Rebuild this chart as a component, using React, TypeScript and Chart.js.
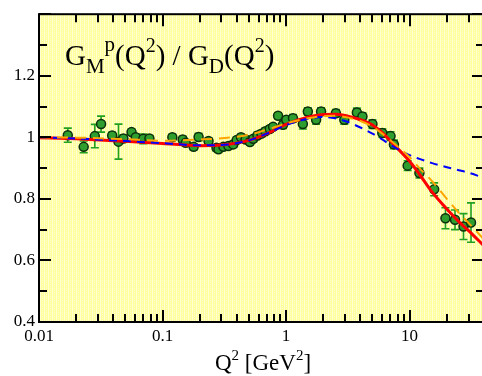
import React, { useEffect, useRef } from "react";
import { Chart, registerables } from "chart.js";
Chart.register(...registerables);

const FONT = "'Liberation Serif', 'Times New Roman', Times, serif";

// Measured points: Q^2 [GeV^2], G_M^p/G_D, error
const dataQ2 = [0.0171, 0.023, 0.0283, 0.0318, 0.0391, 0.044, 0.0482, 0.0561, 0.0607, 0.0698, 0.0783, 0.12, 0.1456, 0.154, 0.1785, 0.1958, 0.2357, 0.2733, 0.2836, 0.311, 0.341, 0.3735, 0.398, 0.4315, 0.47, 0.51, 0.542, 0.587, 0.632, 0.68, 0.738, 0.785, 0.861, 0.944, 1.004, 1.137, 1.367, 1.5, 1.75, 1.92, 2.53, 2.96, 3.74, 4.15, 5.0, 6.01, 7.01, 7.46, 9.64, 12.0, 15.8, 19.5, 23.3, 27.3, 31.4];
const dataG = [1.007, 0.969, 1.004, 1.043, 1.006, 0.986, 0.996, 1.017, 1.0, 0.995, 0.996, 1.0, 0.993, 0.982, 0.969, 1.001, 0.988, 0.966, 0.961, 0.969, 0.972, 0.977, 0.991, 1.0, 0.993, 0.985, 0.995, 1.006, 1.012, 1.02, 1.027, 1.034, 1.07, 1.041, 1.057, 1.062, 1.043, 1.084, 1.057, 1.084, 1.078, 1.057, 1.081, 1.068, 1.043, 1.014, 1.004, 0.977, 0.908, 0.884, 0.831, 0.737, 0.732, 0.71, 0.723];
const dataErr = [0.023, 0.019, 0.038, 0.026, 0.01, 0.057, 0.012, 0.01, 0.01, 0.016, 0.01, 0.01, 0.01, 0.01, 0.01, 0.012, 0.01, 0.01, 0.01, 0.01, 0.01, 0.01, 0.01, 0.01, 0.01, 0.01, 0.01, 0.01, 0.01, 0.01, 0.01, 0.01, 0.01, 0.012, 0.01, 0.012, 0.016, 0.012, 0.014, 0.012, 0.012, 0.014, 0.014, 0.012, 0.014, 0.014, 0.014, 0.014, 0.016, 0.016, 0.021, 0.034, 0.032, 0.042, 0.064];

// Fit curves
const curveQ2 = [0.01, 0.02, 0.05, 0.1, 0.2, 0.3, 0.5, 0.7, 1, 1.5, 2, 2.5, 3, 4, 5, 6, 7.5, 10, 12, 15, 20, 25, 30, 40];
const redFit = [0.999, 0.995, 0.987, 0.98, 0.973, 0.975, 0.99, 1.012, 1.042, 1.065, 1.074, 1.075, 1.071, 1.057, 1.04, 1.015, 0.975, 0.922, 0.88, 0.825, 0.767, 0.726, 0.697, 0.647];
const blueFit = [1.0, 0.996, 0.988, 0.981, 0.974, 0.975, 0.99, 1.012, 1.04, 1.06, 1.066, 1.062, 1.053, 1.032, 1.012, 0.993, 0.968, 0.942, 0.93, 0.917, 0.903, 0.893, 0.885, 0.868];
const orangeFit = [1.0, 0.999, 0.994, 0.989, 0.993, 0.997, 1.008, 1.025, 1.045, 1.062, 1.069, 1.07, 1.066, 1.053, 1.035, 1.012, 0.98, 0.935, 0.9, 0.86, 0.8, 0.755, 0.722, 0.668];

// Axes
const xMin = 0.01;
const xMax = 40;
const yMin = 0.4;
const yMax = 1.4;
const xTickValues = [0.01, 0.02, 0.03, 0.04, 0.05, 0.06, 0.07, 0.08, 0.09, 0.1, 0.2, 0.3, 0.4, 0.5, 0.6, 0.7, 0.8, 0.9, 1, 2, 3, 4, 5, 6, 7, 8, 9, 10, 20, 30, 40];
const xMajorTicks = [0.01, 0.1, 1, 10];
const xTickLabels = ["0.01", "0.1", "1", "10"];
const yTickValues = [0.4, 0.5, 0.6, 0.7, 0.8, 0.9, 1.0, 1.1, 1.2, 1.3, 1.4];
const yMajorTicks = [0.4, 0.6, 0.8, 1.0, 1.2, 1.4];
const yTickLabels = ["0.4", "0.6", "0.8", "1", "1.2", ""];

const idxOf = (arr: number[], v: number) => arr.findIndex((m) => Math.abs(m - v) / Math.abs(m) < 1e-6);

type Run = { t: string; s: number; dy: number };
const drawRuns = (ctx: CanvasRenderingContext2D, x: number, y: number, runs: Run[], center = false) => {
  ctx.save();
  ctx.fillStyle = "#000";
  ctx.textBaseline = "alphabetic";
  ctx.textAlign = "left";
  let total = 0;
  for (const r of runs) {
    ctx.font = `${r.s}px ${FONT}`;
    total += ctx.measureText(r.t).width;
  }
  let cx = center ? x - total / 2 : x;
  for (const r of runs) {
    ctx.font = `${r.s}px ${FONT}`;
    ctx.fillText(r.t, cx, y + r.dy);
    cx += ctx.measureText(r.t).width;
  }
  ctx.restore();
};

const decorPlugin = {
  id: "decor",
  beforeDraw(chart: any) {
    const { ctx, chartArea: a } = chart;
    const tile = document.createElement("canvas");
    tile.width = 4;
    tile.height = 4;
    const tc = tile.getContext("2d")!;
    tc.fillStyle = "#ffff9e";
    tc.fillRect(0, 0, 4, 4);
    tc.fillStyle = "#ffffd2";
    tc.fillRect(0, 0, 1, 4);
    tc.fillRect(2, 0, 1, 1);
    tc.fillRect(2, 2, 1, 1);
    const pat = ctx.createPattern(tile, "repeat");
    ctx.save();
    ctx.fillStyle = pat;
    ctx.fillRect(a.left, a.top, a.right - a.left, a.bottom - a.top);
    ctx.restore();
  },
  beforeDatasetsDraw(chart: any) {
    const { ctx, chartArea: a } = chart;
    const xs = chart.scales.x;
    const ys = chart.scales.y;
    ctx.save();
    ctx.beginPath();
    ctx.rect(a.left, a.top, a.right - a.left, a.bottom - a.top);
    ctx.clip();
    ctx.strokeStyle = "#22a022";
    ctx.lineWidth = 1.6;
    for (let i = 0; i < dataQ2.length; i++) {
      const px = xs.getPixelForValue(dataQ2[i]);
      const y1 = ys.getPixelForValue(dataG[i] + dataErr[i]);
      const y2 = ys.getPixelForValue(dataG[i] - dataErr[i]);
      ctx.beginPath();
      ctx.moveTo(px, y1);
      ctx.lineTo(px, y2);
      ctx.moveTo(px - 4, y1);
      ctx.lineTo(px + 4, y1);
      ctx.moveTo(px - 4, y2);
      ctx.lineTo(px + 4, y2);
      ctx.stroke();
    }
    ctx.restore();
  },
  afterDraw(chart: any) {
    const { ctx, chartArea: a } = chart;
    const xs = chart.scales.x;
    const ys = chart.scales.y;
    ctx.save();
    ctx.strokeStyle = "#000";
    ctx.lineWidth = 2;
    ctx.beginPath();
    for (const v of xTickValues) {
      const px = Math.round(xs.getPixelForValue(v));
      const len = idxOf(xMajorTicks, v) >= 0 ? 12 : 8;
      ctx.moveTo(px, a.bottom);
      ctx.lineTo(px, a.bottom - len);
      ctx.moveTo(px, a.top);
      ctx.lineTo(px, a.top + len);
    }
    for (const v of yTickValues) {
      const py = Math.round(ys.getPixelForValue(v));
      const len = idxOf(yMajorTicks, v) >= 0 ? 12 : 8;
      ctx.moveTo(a.left, py);
      ctx.lineTo(a.left + len, py);
      ctx.moveTo(a.right, py);
      ctx.lineTo(a.right - len, py);
    }
    ctx.stroke();
    ctx.strokeRect(a.left, a.top, a.right - a.left, a.bottom - a.top);
    ctx.restore();

    drawRuns(ctx, 65, 65, [
      { t: "G", s: 29, dy: 0 },
      { t: "M", s: 21, dy: 8 },
      { t: "p", s: 21, dy: -14 },
      { t: "(Q", s: 29, dy: 0 },
      { t: "2", s: 20, dy: -13 },
      { t: ") / G", s: 29, dy: 0 },
      { t: "D", s: 21, dy: 8 },
      { t: "(Q", s: 29, dy: 0 },
      { t: "2", s: 20, dy: -13 },
      { t: ")", s: 29, dy: 0 },
    ]);
    drawRuns(ctx, 263, 370, [
      { t: "Q", s: 23, dy: 0 },
      { t: "2", s: 15, dy: -10 },
      { t: " [GeV", s: 23, dy: 0 },
      { t: "2", s: 15, dy: -10 },
      { t: "]", s: 23, dy: 0 },
    ], true);
  },
};

export default function App() {
  const ref = useRef<HTMLCanvasElement>(null);
  useEffect(() => {
    if (!ref.current) return;
    const pts = dataQ2.map((x, i) => ({ x, y: dataG[i] }));
    const mk = (arr: number[]) => curveQ2.map((x, i) => ({ x, y: arr[i] }));
    const chart = new Chart(ref.current, {
      type: "scatter",
      data: {
        datasets: [
          {
            label: "data",
            data: pts,
            pointRadius: 4.5,
            pointBackgroundColor: "#2e9e2e",
            pointBorderColor: "#0b300b",
            pointBorderWidth: 1.5,
            showLine: false,
            order: 4,
          },
          {
            label: "red",
            data: mk(redFit),
            showLine: true,
            borderColor: "#ff0000",
            borderWidth: 3,
            pointRadius: 0,
            cubicInterpolationMode: "monotone",
            order: 3,
          },
          {
            label: "blue",
            data: mk(blueFit),
            showLine: true,
            borderColor: "#0000ff",
            borderWidth: 2,
            borderDash: [8, 6],
            pointRadius: 0,
            cubicInterpolationMode: "monotone",
            order: 2,
          },
          {
            label: "orange",
            data: mk(orangeFit),
            showLine: true,
            borderColor: "#ffa500",
            borderWidth: 2,
            borderDash: [11, 7],
            pointRadius: 0,
            cubicInterpolationMode: "monotone",
            order: 1,
          },
        ],
      } as any,
      options: {
        animation: false,
        responsive: false,
        devicePixelRatio: 1,
        layout: { padding: { top: 9, right: 2, left: 0, bottom: 0 } },
        plugins: { legend: { display: false }, tooltip: { enabled: false } },
        scales: {
          x: {
            type: "logarithmic",
            min: xMin,
            max: xMax,
            grid: { display: false, drawTicks: false },
            border: { display: false },
            afterBuildTicks: (s: any) => {
              s.ticks = xTickValues.map((v) => ({ value: v, major: idxOf(xMajorTicks, v) >= 0 }));
            },
            afterFit: (s: any) => {
              s.height = 54;
            },
            ticks: {
              autoSkip: false,
              maxRotation: 0,
              minRotation: 0,
              padding: 4,
              color: "#000",
              font: { family: FONT, size: 17 },
              callback: (v: any) => {
                const i = idxOf(xMajorTicks, Number(v));
                return i >= 0 ? xTickLabels[i] : "";
              },
            },
          },
          y: {
            type: "linear",
            min: yMin,
            max: yMax,
            grid: { display: false, drawTicks: false },
            border: { display: false },
            afterBuildTicks: (s: any) => {
              s.ticks = yTickValues.map((v) => ({ value: v }));
            },
            afterFit: (s: any) => {
              s.width = 39;
            },
            ticks: {
              autoSkip: false,
              padding: 4,
              color: "#000",
              font: { family: FONT, size: 17 },
              callback: (v: any) => {
                const i = idxOf(yMajorTicks, Number(v));
                return i >= 0 ? yTickLabels[i] : "";
              },
            },
          },
        },
      } as any,
      plugins: [decorPlugin],
    });
    return () => chart.destroy();
  }, []);
  return (
    <div style={{ position: "fixed", left: 0, top: 0, width: 482, height: 376, overflow: "hidden", background: "#fff" }}>
      <canvas ref={ref} width={490} height={376} style={{ display: "block" }} />
    </div>
  );
}
